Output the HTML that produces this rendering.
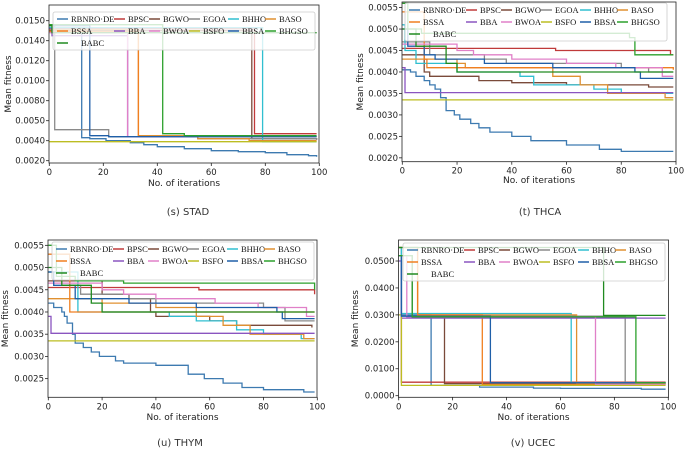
<!DOCTYPE html>
<html><head><meta charset="utf-8"><style>
html,body{margin:0;padding:0;background:#fff;}
svg{display:block;}
text{font-family:"DejaVu Sans","Liberation Sans",sans-serif;}
.leg{font-family:"Liberation Serif",serif;font-size:8.5px;fill:#111;}
</style></head><body>
<svg id="chart" width="685" height="450" viewBox="0 0 685 450"></svg>
<script>
const names = ["RBNRO-DE","BPSC","BGWO","EGOA","BHHO","BASO","BSSA","BBA","BWOA","BSFO","BBSA","BHGSO","BABC"];
const colors = ["#3d7ab0","#c03a3a","#7a4a3a","#8a8a8a","#30bfd0","#e09030","#f07f20","#8a55c0","#e080c8","#bcbd22","#1f5fa8","#2ca02c","#208a20"];
const xTicks = [0,20,40,60,80,100];

// (s) STAD
const sRBNRO=[[0,0.0150],[12,0.0043],[15,0.0042],[21,0.0040],[30,0.0038],[35,0.0036],[40,0.0034],[50,0.0032],[60,0.0030],[70,0.0029],[80,0.0028],[88,0.0026],[96,0.0025],[99,0.0024]];
const sBPSC=[[0,0.0152],[76,0.0047],[99,0.0047]];
const sBGWO=[[0,0.0150],[75,0.0042],[99,0.0041]];
const sEGOA=[[0,0.0155],[2,0.0051],[22,0.0044],[55,0.0042],[99,0.0041]];
const sBHHO=[[0,0.0153],[79,0.0039],[99,0.0039]];
const sBASO=[[0,0.0151],[33,0.0045],[55,0.0042],[74,0.0040],[99,0.0040]];
const sBSSA=[[0,0.0149],[33,0.0044],[55,0.0044],[99,0.0044]];
const sBBA=[[0,0.0152],[1,0.0145],[29,0.0044],[99,0.0044]];
const sBWOA=[[0,0.0148],[29,0.0044],[99,0.0044]];
const sBSFO=[[0,0.0039],[99,0.0039]];
const sBBSA=[[0,0.0155],[15,0.0045],[22,0.0044],[99,0.0044]];
const sBHGSO=[[0,0.0156],[42,0.0047],[50,0.0045],[99,0.0045]];
const sBABC=[[0,0.0155],[1,0.0148],[99,0.0148]];
const sYTicks=[0.002,0.004,0.006,0.008,0.010,0.012,0.014,0.016];
const sYLabels=["0.0020","0.0040","0.0050","0.0080","0.0100","0.0120","0.0140","0.0150"];

// (t) THCA
const tRBNRO=[[0,0.00405],[3,0.0040],[5,0.0039],[8,0.0038],[10,0.0037],[12,0.0036],[14,0.0034],[16,0.0031],[19,0.0030],[21,0.0029],[25,0.0028],[28,0.0027],[32,0.0026],[40,0.0025],[47,0.0024],[60,0.0023],[72,0.0022],[80,0.00215],[99,0.00215]];
const tBPSC=[[0,0.00455],[56,0.0045],[98,0.0044],[99,0.0044]];
const tBGWO=[[0,0.0044],[8,0.0040],[10,0.0039],[20,0.0039],[28,0.0038],[40,0.00375],[60,0.0037],[90,0.00365],[99,0.00365]];
const tEGOA=[[0,0.0047],[10,0.0044],[30,0.0043],[38,0.0042],[80,0.0041],[90,0.0040],[99,0.0040]];
const tBHHO=[[0,0.0051],[1,0.0045],[5,0.0042],[20,0.0040],[43,0.0039],[48,0.0037],[70,0.0036],[80,0.0035],[99,0.0035]];
const tBASO=[[0,0.0043],[20,0.0042],[23,0.0041],[40,0.0041],[55,0.0039],[65,0.0037],[75,0.0035],[96,0.0034],[99,0.0034]];
const tBSSA=[[0,0.0054],[8,0.0043],[9,0.0041],[99,0.00405]];
const tBBA=[[0,0.0041],[1,0.00352],[99,0.00352]];
const tBWOA=[[0,0.00465],[20,0.0045],[26,0.0044],[40,0.0043],[60,0.0042],[78,0.0041],[95,0.0039],[99,0.0039]];
const tBSFO=[[0,0.00335],[99,0.00335]];
const tBBSA=[[0,0.0050],[2,0.0046],[8,0.0044],[12,0.0043],[30,0.0042],[55,0.0041],[85,0.0040],[87,0.00385],[99,0.00385]];
const tBHGSO=[[0,0.0056],[2,0.0050],[7,0.0049],[83,0.0048],[85,0.0044],[99,0.0044]];
const tBABC=[[0,0.0050],[5,0.0046],[16,0.0042],[20,0.0040],[99,0.0040]];
const tYTicks=[0.0020,0.0025,0.0030,0.0035,0.0040,0.0045,0.0050,0.0055];
const tYLabels=["0.0020","0.0025","0.0030","0.0035","0.0040","0.0045","0.0050","0.0055"];

// (u) THYM
const uRBNRO=[[0,0.0042],[2,0.0041],[5,0.0040],[6,0.0039],[7,0.00375],[9,0.0035],[10,0.0033],[13,0.0032],[16,0.0031],[19,0.0030],[25,0.0029],[28,0.00285],[40,0.0028],[52,0.0026],[58,0.0025],[65,0.0024],[72,0.0023],[80,0.00225],[95,0.0022],[99,0.0022]];
const uBPSC=[[0,0.00455],[56,0.0045],[98,0.0045],[99,0.0044]];
const uBGWO=[[0,0.0047],[20,0.0044],[30,0.0043],[38,0.0040],[40,0.0039],[60,0.0038],[70,0.0037],[90,0.0037],[98,0.00365]];
const uEGOA=[[0,0.0049],[8,0.0046],[12,0.0044],[30,0.0043],[40,0.0042],[80,0.0041],[88,0.0038],[99,0.0038]];
const uBHHO=[[0,0.0049],[11,0.0040],[40,0.0040],[45,0.0039],[55,0.0038],[70,0.0036],[80,0.0035],[94,0.0034],[99,0.0034]];
const uBASO=[[0,0.0043],[20,0.0042],[40,0.0041],[55,0.0039],[65,0.0037],[75,0.0035],[95,0.0034],[99,0.0034]];
const uBSSA=[[0,0.0053],[8,0.0040],[99,0.0040]];
const uBBA=[[0,0.0039],[1,0.00352],[99,0.00352]];
const uBWOA=[[0,0.00465],[20,0.0045],[28,0.0044],[40,0.0043],[62,0.0042],[78,0.0041],[96,0.0039],[99,0.0039]];
const uBSFO=[[0,0.00335],[99,0.00335]];
const uBBSA=[[0,0.0049],[2,0.0046],[10,0.0043],[30,0.0042],[55,0.0041],[85,0.0040],[87,0.00385],[99,0.00385]];
const uBHGSO=[[0,0.0055],[3,0.0048],[10,0.0047],[28,0.00465],[97,0.00465],[99,0.0045]];
const uBABC=[[0,0.0050],[5,0.0046],[16,0.0042],[20,0.0040],[99,0.0040]];
const uYTicks=[0.0025,0.0030,0.0035,0.0040,0.0045,0.0050,0.0055];
const uYLabels=["0.0025","0.0030","0.0035","0.0040","0.0045","0.0050","0.0055"];

// (v) UCEC
const vRBNRO=[[0,0.055],[1,0.0300],[12,0.0038],[30,0.0032],[50,0.0028],[60,0.0027],[90,0.0024],[99,0.0024]];
const vBPSC=[[0,0.052],[1,0.0050],[99,0.0050]];
const vBGWO=[[0,0.052],[5,0.0295],[17,0.0045],[99,0.0045]];
const vEGOA=[[0,0.052],[5,0.0295],[84,0.0048],[99,0.0048]];
const vBHHO=[[0,0.055],[1,0.0305],[64,0.0048],[99,0.0048]];
const vBASO=[[0,0.055],[7,0.0300],[66,0.0045],[99,0.0045]];
const vBSSA=[[0,0.055],[7,0.0300],[31,0.0042],[99,0.0042]];
const vBBA=[[0,0.050],[1,0.0288],[99,0.0288]];
const vBWOA=[[0,0.052],[3,0.0293],[73,0.0042],[99,0.0042]];
const vBSFO=[[0,0.030],[1,0.0038],[99,0.0038]];
const vBBSA=[[0,0.052],[1,0.0295],[34,0.0048],[99,0.0048]];
const vBHGSO=[[0,0.052],[5,0.0293],[88,0.0048],[99,0.0048]];
const vBABC=[[0,0.055],[76,0.0298],[99,0.0298]];
const vYTicks=[0,0.01,0.02,0.03,0.04,0.05];
const vYLabels=["0.0000","0.0100","0.0200","0.0300","0.0400","0.0500"];

const NS="http://www.w3.org/2000/svg";
const svg=document.getElementById('chart');
function mk(tag,attrs,parent){const e=document.createElementNS(NS,tag);for(const k in attrs)e.setAttribute(k,attrs[k]);(parent||svg).appendChild(e);return e;}

function panel(cfg){
  const g=mk('g',{});
  
  
  const xs=v=>cfg.x0+(v/100)*(cfg.x1-cfg.x0);
  const ys=v=>cfg.yb+(v-cfg.ymin)/(cfg.ymax-cfg.ymin)*(cfg.yt-cfg.yb);
  const L=cfg.L,T=cfg.yt,B=cfg.yb;
  cfg.series.forEach((s,i)=>{
    let d='';
    s.forEach((p,j)=>{
      if(j===0)d+='M'+xs(p[0]).toFixed(1)+' '+ys(p[1]).toFixed(1);
      else d+='H'+xs(p[0]).toFixed(1)+'V'+ys(p[1]).toFixed(1);
    });
    const path=mk('path',{d:d,fill:'none',stroke:colors[i],'stroke-width':1.3},g);
    
    
  });
  const fr=mk('rect',{x:L,y:T,width:cfg.R-L,height:B-T,fill:'none',stroke:'#222','stroke-width':0.8},g);
  
  
  xTicks.forEach(t=>{
    mk('line',{x1:xs(t),x2:xs(t),y1:B,y2:B+3,stroke:'#222','stroke-width':0.8},g);
    const tx=mk('text',{x:xs(t),y:B+12,'text-anchor':'middle','font-size':8.5,fill:'#222'},g);
    tx.textContent=t;
    
    
  });
  cfg.yTicks.forEach((t,k)=>{
    mk('line',{x1:L-3,x2:L,y1:ys(t),y2:ys(t),stroke:'#222','stroke-width':0.8},g);
    const ty=mk('text',{x:L-4,y:ys(t)+3,'text-anchor':'end','font-size':8.5,fill:'#222'},g);
    ty.textContent=cfg.yLabels[k];
    
    
  });
  const xl=mk('text',{x:(L+cfg.R)/2,y:cfg.xly,'text-anchor':'middle','font-size':9,fill:'#222'},g);
  xl.textContent='No. of iterations';
  
  
  const yl=mk('text',{x:0,y:0,'text-anchor':'middle','font-size':9,fill:'#222',transform:'translate('+cfg.ylx+','+((T+B)/2)+') rotate(-90)'},g);
  yl.textContent='Mean fitness';
  
  
  const cap=mk('text',{x:cfg.capx,y:cfg.capy,'text-anchor':'middle','font-size':10,fill:'#333'},g);
  cap.textContent=cfg.caption;
  
  
  const lg=mk('g',{},g);
  
  
  mk('rect',{x:cfg.lx,y:cfg.ly,width:262,height:38,rx:2,fill:'#fff','fill-opacity':0.8,stroke:'#ccc','stroke-width':0.8},lg);
  const cols=[18,75,110,150,189,226];
  names.forEach((n,i)=>{
    const row=Math.floor(i/6),col=i%6;
    let tx=cfg.lx+cols[col],ty=cfg.ly+7+row*12;
    if(i===12)tx=cfg.lx+28;
    const hx=i===12?cfg.lx+4:tx-14;
    const ent=mk('g',{},lg);
    
    
    mk('line',{x1:hx,x2:hx+11,y1:ty,y2:ty,stroke:colors[i],'stroke-width':1.5},ent);
    const t=mk('text',{x:tx,y:ty+3,class:'leg'},ent);
    t.textContent=n==='RBNRO-DE'?'RBNRO·DE':n;
  });
}

panel({id:'stad',caption:'(s) STAD',x0:49.3,x1:319.3,L:49,R:319,yt:5,yb:163,ymin:0.00177,ymax:0.01757,
  series:[sRBNRO,sBPSC,sBGWO,sEGOA,sBHHO,sBASO,sBSSA,sBBA,sBWOA,sBSFO,sBBSA,sBHGSO,sBABC],
  yTicks:sYTicks,yLabels:sYLabels,xly:186,ylx:11,capx:188,capy:215,lx:53,ly:12});
panel({id:'thca',caption:'(t) THCA',x0:402.3,x1:676,L:402,R:676,yt:2,yb:161.7,ymin:0.00191,ymax:0.00563,
  series:[tRBNRO,tBPSC,tBGWO,tEGOA,tBHHO,tBASO,tBSSA,tBBA,tBWOA,tBSFO,tBBSA,tBHGSO,tBABC],
  yTicks:tYTicks,yLabels:tYLabels,xly:183,ylx:363,capx:540,capy:215,lx:405,ly:3});
panel({id:'thym',caption:'(u) THYM',x0:48.3,x1:317.3,L:48,R:317,yt:240,yb:397.3,ymin:0.00208,ymax:0.00562,
  series:[uRBNRO,uBPSC,uBGWO,uEGOA,uBHHO,uBASO,uBSSA,uBBA,uBWOA,uBSFO,uBBSA,uBHGSO,uBABC],
  yTicks:uYTicks,yLabels:uYLabels,xly:420,ylx:8,capx:180,capy:446,lx:52,ly:242});
panel({id:'ucec',caption:'(v) UCEC',x0:398.7,x1:668.3,L:398.5,R:668.5,yt:240,yb:397.3,ymin:-0.0006,ymax:0.0578,
  series:[vRBNRO,vBPSC,vBGWO,vEGOA,vBHHO,vBASO,vBSSA,vBBA,vBWOA,vBSFO,vBBSA,vBHGSO,vBABC],
  yTicks:vYTicks,yLabels:vYLabels,xly:420,ylx:358,capx:533,capy:446,lx:403,ly:243});
</script>
</body></html>
